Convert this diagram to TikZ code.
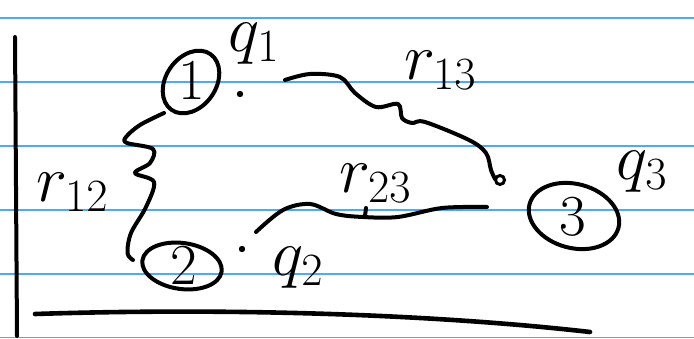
\RequirePackage{fix-cm}
\documentclass[tikz,border=0pt]{standalone}
\usetikzlibrary{shapes.geometric}
\definecolor{ruleblue}{RGB}{80,168,250}
\begin{document}
\begin{tikzpicture}[x=1pt,y=-1pt,
  hand/.style={line width=4pt, line cap=round, line join=round},
  ring/.style={draw, ellipse, line width=4pt, inner sep=0pt},
  digit/.style={font=\fontsize{58}{58}\selectfont, inner sep=0pt},
  lbl/.style={font=\fontsize{66}{66}\selectfont, inner sep=0pt},
  ruling/.style={draw=ruleblue, line width=1.5pt}]
\useasboundingbox (0,0) rectangle (694,339);
\fill[white] (0,0) rectangle (694,339);
\foreach \y in {18,82,146,210,274,337.5} \draw[ruling] (0,\y) -- (694,\y);
% margin and bottom strokes
\draw[hand] (15,37) -- (17,336);
\draw[hand, line width=4.6pt] (35,314) .. controls (250,307) and (450,316) .. (590,332);
% charges
\node[ring, minimum width=68, minimum height=50, rotate=55] (c1) at (191,82) {};
\node[digit] (n1) at (192,81) {$1$};
\node[ring, minimum width=80, minimum height=46, rotate=-8] (c2) at (182,266) {};
\node[digit] (n2) at (184,266) {$2$};
\node[ring, minimum width=92, minimum height=64, rotate=-15] (c3) at (574,216) {};
\node[digit] (n3) at (573,217) {$3$};
% point dots
\fill (240,94) circle (3.2);
\coordinate (d1) at (240,94);
\fill (242,249) circle (3.2);
\coordinate (d2) at (242,249);
\coordinate (d3) at (500,180);
\draw[line width=3pt] (d3) circle (4.5);
% connector ends
\coordinate (a12) at (164,113);
\coordinate (b12) at (133,260);
\coordinate (a13) at (285,80);
\coordinate (a23) at (256,232);
\coordinate (b23) at (487,207);
% r12
\draw[hand] plot[smooth, tension=0.55] coordinates {(a12) (140,125) (126,137) (127,143) (153,149) (150,163) (135,173) (154,182) (146,207) (131,233) (127.5,253) (b12)};
% r13
\draw[hand] plot[smooth, tension=0.55] coordinates {(a13) (310,74) (340,77) (355,93) (376,107) (398,104) (402,118) (412,123) (425,122) (469,140) (486,153) (491,170) (495,179)};
% r23
\draw[hand] plot[smooth, tension=0.55] coordinates {(a23) (283,210) (310,204) (336,214) (363,217) (398,217) (442,208) (b23)};
\draw[hand] (365,216) -- (366,208);
% labels
\node[lbl] (r12) at (72,192) {$r_{12}$};
\node[lbl] (r13) at (440,70) {$r_{13}$};
\node[lbl] (r23) at (375,183) {$r_{23}$};
\node[lbl] (q1) at (254,44) {$q_1$};
\node[lbl] (q2) at (298,268) {$q_2$};
\node[lbl] (q3) at (642,172) {$q_3$};
\end{tikzpicture}
\end{document}
